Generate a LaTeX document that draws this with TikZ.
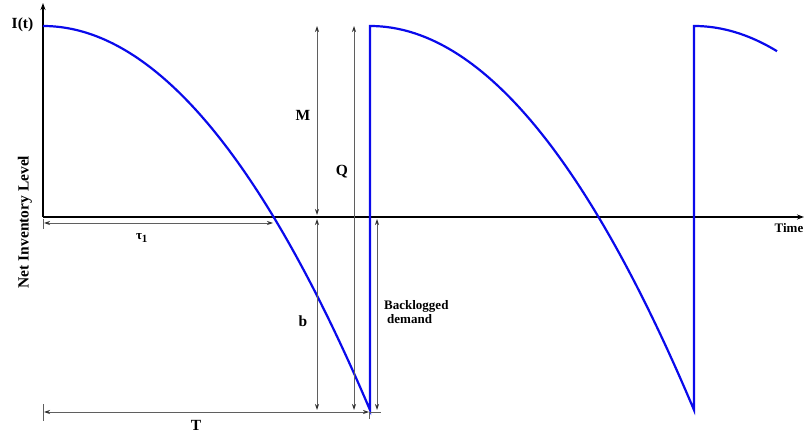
\documentclass[tikz,border=0pt]{standalone}
\usepackage{fontspec}
\setmainfont{Liberation Serif}
\usetikzlibrary{arrows.meta}
\definecolor{curveblue}{RGB}{10,10,235}
\definecolor{dimgray}{RGB}{95,95,95}
\begin{document}
\begin{tikzpicture}[x=1pt,y=-1pt,
  axisline/.style={draw=black,line width=1.2pt,-{Stealth[length=7pt,width=5pt]}},
  curve/.style={draw=curveblue,line width=2.2pt,line join=miter},
  dimline/.style={draw=dimgray,line width=0.8pt,{Stealth[length=6pt,width=4pt,black!80]}-{Stealth[length=6pt,width=4pt,black!80]}},
  tickline/.style={draw=dimgray,line width=0.8pt},
  lbl/.style={font=\bfseries\fontsize{15.5}{17}\selectfont,inner sep=0pt},
  smalllbl/.style={font=\bfseries\fontsize{13}{14}\selectfont,inner sep=0pt}]
\useasboundingbox (0,0) rectangle (806,438);
% axes
\coordinate (O) at (43,217);
\coordinate (ytop) at (43,3);
\coordinate (ybot) at (43,217);
\coordinate (xend) at (804,217);
\draw[axisline] (ybot) -- (ytop);
\draw[axisline] (O) -- (xend);
% inventory curve
\draw[curve] plot[domain=43:370,samples=80] (\x,{26+384*((\x-43)/327)^2})
  -- (370,26)
  -- plot[domain=370:694,samples=80] (\x,{26+384*((\x-370)/324)^2})
  -- (694,26)
  -- plot[domain=694:777,samples=30] (\x,{26+384*((\x-694)/324)^2});
% dimension coordinates
\coordinate (Mtop) at (317,26);
\coordinate (Mbot) at (317,215);
\coordinate (btop) at (317,219);
\coordinate (bbot) at (317,410);
\coordinate (Qtop) at (354,26);
\coordinate (Qbot) at (354,410);
\coordinate (Btop) at (377,219);
\coordinate (Bbot) at (377,410);
\coordinate (tauL) at (44,223);
\coordinate (tauR) at (273,223);
\coordinate (TL) at (44,412);
\coordinate (TR) at (369,412);
\coordinate (Tend) at (381,412);
\draw[dimline] (Mtop) -- (Mbot);
\draw[dimline] (btop) -- (bbot);
\draw[dimline] (Qtop) -- (Qbot);
\draw[dimline] (Btop) -- (Bbot);
\draw[dimline] (tauL) -- (tauR);
\draw[tickline] (43,219) -- (43,229);
\draw[dimline] (TL) -- (TR);
\draw[tickline] (TR) -- (Tend);
\draw[tickline] (43,404) -- (43,421);
\draw[tickline] (369,412) -- (369,419);
% labels
\node[lbl] (It) at (22.5,25) {I(t)};
\node[lbl,rotate=90] (ylab) at (25,222) {Net Inventory Level};
\node[smalllbl] (time) at (789,228) {Time};
\node[lbl] (M) at (303,115) {M};
\node[lbl] (Q) at (342,172) {Q};
\node[lbl] (b) at (303,321) {b};
\node[smalllbl] (tau) at (142,238) {τ\textsubscript{\fontsize{11}{12}\selectfont 1}};
\node[lbl] (T) at (196,425) {T};
\node[smalllbl,align=left,anchor=north west] (back) at (384,300) {Backlogged\\\hspace{3pt}demand};
\end{tikzpicture}
\end{document}
